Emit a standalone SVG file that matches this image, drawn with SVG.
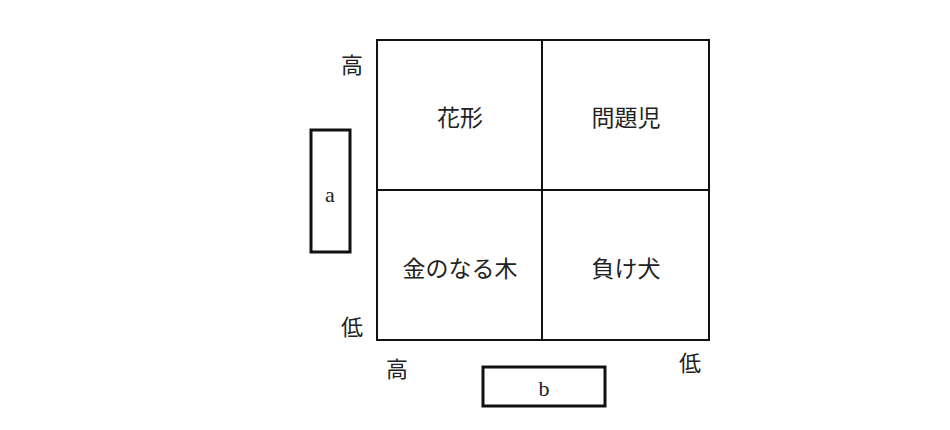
<svg xmlns="http://www.w3.org/2000/svg" width="950" height="430" viewBox="0 0 950 430">
<style>
.jp{font-family:"Noto Sans CJK JP","Noto Sans",sans-serif;font-size:23px;fill:#222;text-anchor:middle;dominant-baseline:central}
.ax{font-size:22px}
.lt{font-family:"Liberation Serif",serif;font-size:22px;fill:#222;text-anchor:middle;dominant-baseline:central}
.ln{stroke:#111;stroke-width:2;fill:none}
.bx{stroke:#111;stroke-width:3;fill:#fff}
</style>
<rect width="950" height="430" fill="#fff"/>
<g id="grid">
<rect class="ln" x="377" y="40" width="332" height="300"/>
<line class="ln" x1="542" y1="40" x2="542" y2="340"/>
<line class="ln" x1="377" y1="190" x2="709" y2="190"/>
</g>
<g id="cell-hanagata"><text class="jp" x="460" y="116">花形</text></g>
<g id="cell-mondaiji"><text class="jp" x="626" y="116">問題児</text></g>
<g id="cell-kanenonaruki"><text class="jp" x="460" y="267">金のなる木</text></g>
<g id="cell-makeinu"><text class="jp" x="626" y="267">負け犬</text></g>
<g id="axis-labels">
<text class="jp ax" x="352" y="63">高</text>
<text class="jp ax" x="352" y="325">低</text>
<text class="jp ax" x="397" y="367">高</text>
<text class="jp ax" x="690" y="361">低</text>
</g>
<g id="box-a">
<rect class="bx" x="311" y="130" width="39" height="122"/>
<text class="lt" x="330" y="194">a</text>
</g>
<g id="box-b">
<rect class="bx" x="483" y="367" width="122" height="39"/>
<text class="lt" x="544" y="388">b</text>
</g>
</svg>
